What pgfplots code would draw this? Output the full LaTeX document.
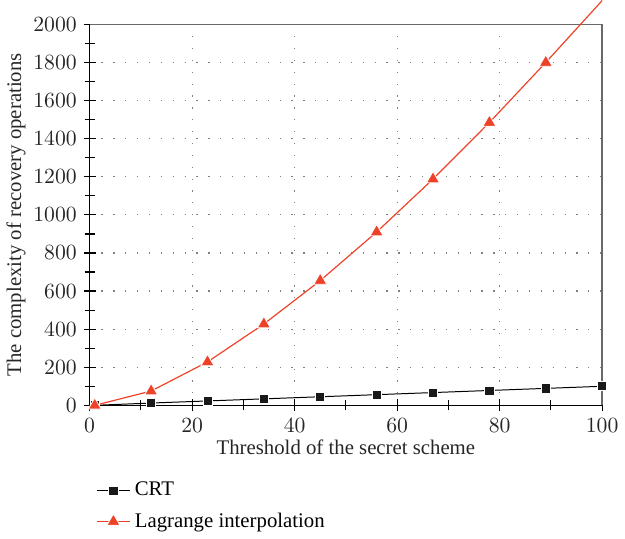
\documentclass[border=0pt]{standalone}
\usepackage{fontspec}
\setmainfont{Liberation Serif}
\usepackage{pgfplots}
\pgfplotsset{compat=1.18}
\definecolor{lagRed}{RGB}{238,66,40}
\definecolor{boxGray}{RGB}{105,105,105}
\begin{document}
\begin{tikzpicture}
\begin{axis}[
    scale only axis,
    width=259pt, height=192.5pt,
    xmin=0, xmax=100, ymin=0, ymax=2000,
    xtick={0,20,...,100}, ytick={0,200,...,2000},
    xticklabel={\textrm{\pgfmathprintnumber[int detect,1000 sep={}]{\tick}}},
    yticklabel={\textrm{\pgfmathprintnumber[int detect,1000 sep={}]{\tick}}},
    minor x tick num=1, minor y tick num=1,
    tick pos=left, tick align=center,
    major tick length=6pt, minor tick length=5pt,
    every tick/.style={black, line width=0.6pt},
    tick label style={font=\fontsize{10.5}{12}\selectfont, black!85},
    label style={font=\fontsize{10.5}{12}\selectfont, black!85},
    xlabel={Threshold of the secret scheme},
    ylabel={The complexity of recovery operations},
    xlabel style={yshift=3pt},
    ylabel style={yshift=-3pt},
    axis line style={draw=none},
    grid=major,
    major grid style={gray, line width=0.6pt, dash pattern=on 0.6pt off 5.4pt},
    clip=false,
    legend style={at={(0.0,-0.18)}, anchor=north west, draw=none, fill=none,
                  font=\fontsize{10.5}{12}\selectfont, row sep=3pt},
    legend cell align=left,
]
% axis box: bottom and left black, top and right gray
\draw[boxGray, line width=0.8pt] (axis cs:0,2000) -- (axis cs:100,2000) -- (axis cs:100,0);
\draw[black, line width=0.8pt] (axis cs:0,2000) -- (axis cs:0,0) -- (axis cs:100,0);
\addlegendimage{black, line width=0.5pt, mark=square*, mark size=2.3pt,
         mark options={fill=black!90, draw=white, line width=0.4pt}}
\addlegendentry{CRT}
\addlegendimage{lagRed, line width=0.6pt, mark=triangle*, mark size=3.8pt,
         mark options={fill=lagRed, draw=white, line width=0.4pt}}
\addlegendentry{Lagrange interpolation}
\addplot[forget plot, black, line width=0.5pt, mark=square*, mark size=2.3pt,
         mark options={fill=black!90, draw=white, line width=0.4pt}]
  coordinates {(1,0)(12,12)(23,23)(34,34)(45,45)(56,56)(67,67)(78,78)(89,89)(100,100)};
\addplot[forget plot, lagRed, line width=0.6pt, mark=triangle*, mark size=3.8pt,
         mark indices={1,...,9},
         mark options={fill=lagRed, draw=white, line width=0.4pt}]
  coordinates {(1,0)(12,75)(23,228)(34,427)(45,655)(56,910)(67,1188)(78,1485)(89,1800)(100,2125)};
\end{axis}
\end{tikzpicture}
\end{document}
